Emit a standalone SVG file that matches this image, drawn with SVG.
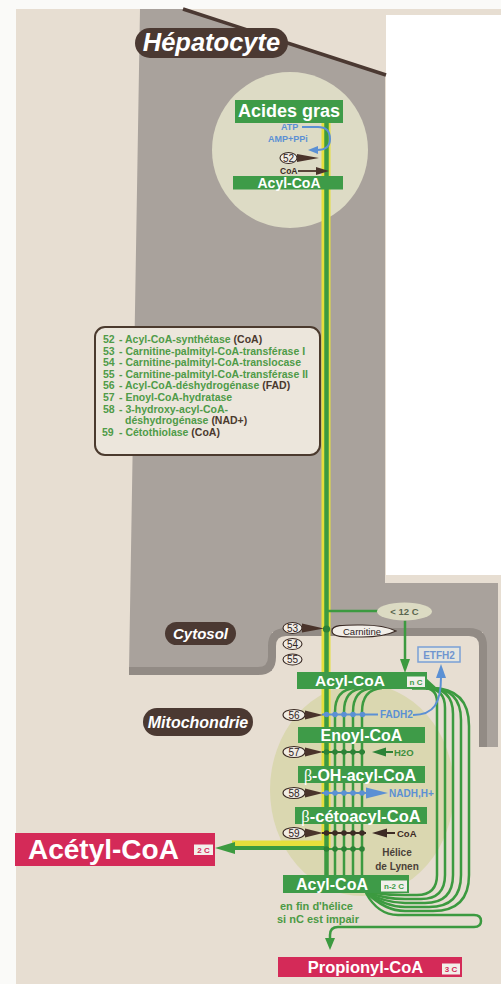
<svg xmlns="http://www.w3.org/2000/svg" width="501" height="984" viewBox="0 0 501 984">
<defs>
<style>
.bx{fill:#3e9b48;}
.bt{font-family:"Liberation Sans",Arial,sans-serif;font-weight:bold;fill:#ffffff;text-anchor:middle;}
.pill{fill:#4b3932;}
.pt{font-family:"Liberation Sans",Arial,sans-serif;font-weight:bold;font-style:italic;fill:#ffffff;text-anchor:middle;}
.num{fill:#f1ece4;stroke:#3a2a24;stroke-width:1.1;}
.nt{font-family:"Liberation Sans",Arial,sans-serif;font-size:10px;fill:#2e221d;text-anchor:middle;}
.tri{fill:#4a342b;}
.gl{stroke:#3c9a40;fill:none;stroke-width:2.5;}
.bl{stroke:#5b90d4;fill:none;stroke-width:2;}
.dl{stroke:#3d2b25;fill:none;stroke-width:2;}
.dg{fill:#2c8236;}
.db{fill:#5b90d4;}
.dk{fill:#3d2b25;}
.lg{font-family:"Liberation Sans",Arial,sans-serif;font-weight:bold;font-size:10.5px;fill:#4f9b48;}
.lp{fill:#4b3a2e;}
.crim{fill:#d42a58;}
.tag{fill:#f2efea;}
.tagt{font-family:"Liberation Sans",Arial,sans-serif;font-weight:bold;font-size:8px;text-anchor:middle;}
.beta{font-family:"Liberation Serif","Times New Roman",serif;font-weight:normal;}
.sm{font-family:"Liberation Sans",Arial,sans-serif;font-weight:bold;}
</style>
</defs>

<!-- background -->
<rect x="0" y="0" width="501" height="984" fill="#fafaf8"/>
<rect x="16" y="9" width="485" height="975" fill="#e7ded2"/>
<path d="M140,9 L183,9 L385,75 L385,583 L498,583 L498,747 L483,747 L483,632 L272,632 L272,671 L129,671 Z" fill="#a9a29c"/>
<rect x="386" y="15" width="115" height="560" fill="#ffffff"/>
<path d="M129,671 L258,671 Q272,671 272,657 L272,646 Q272,632 286,632 L469,632 Q483,632 483,646 L483,747" fill="none" stroke="#928b85" stroke-width="8"/>
<line x1="183" y1="9" x2="386" y2="75" stroke="#4b3932" stroke-width="3.5"/>
<circle cx="290" cy="150" r="78" fill="#dddbc5"/>
<ellipse cx="362" cy="790" rx="92" ry="106" fill="#dad7b0"/>

<!-- connectors -->
<g id="connectors">
  <path d="M326,123 L326,845 L232,845" fill="none" stroke="#e6df3c" stroke-width="9"/>
  <path d="M326.5,123 L326.5,875" fill="none" stroke="#3c9a40" stroke-width="4.5"/>
  <path d="M326.5,848 L232,848" fill="none" stroke="#3c9a40" stroke-width="4"/>
  <polygon points="215,848 235,842 235,854" fill="#3c9a40"/>
  <!-- ATP -> AMP -->
  <path d="M302,127 L318,127 C328,127 330,133 330,139 C330,146 326,150 317,150" class="bl" stroke-width="1.8"/>
  <polygon points="308,150 318,146 318,154" fill="#5b90d4"/>
  <!-- CoA -> -->
  <line x1="298" y1="171" x2="316" y2="171" stroke="#4a342b" stroke-width="1.8"/>
  <polygon points="316,167 316,175 329,171" fill="#4a342b"/>
  <!-- < 12 C branch -->
  <path d="M326.5,611 L378,611" class="gl"/>
  <path d="M405,620.5 L405,660" class="gl"/>
  <polygon points="400,659 410,659 405,673" fill="#3c9a40"/>
  <!-- helix verticals (inner) -->
  <path d="M335,875 L335,712 C335,698 341,689 355,688" class="gl"/>
  <path d="M344,875 L344,712 C344,698 350,689 364,688" class="gl"/>
  <path d="M353,875 L353,712 C353,698 359,689 373,688" class="gl"/>
  <path d="M362,875 L362,712 C362,698 368,689 382,688" class="gl"/>
  <!-- helix outer loops -->
  <path d="M412,688 L423,688 Q437,688 437,702 L437,875 Q437,895 417,895 L405,895 Q385,895 366,892" class="gl"/>
  <path d="M412,688 L425,688 Q445,688 445,708 L445,875 Q445,899 421,899 L405,899 Q385,899 366,892" class="gl"/>
  <path d="M412,688 L427,688 Q453,688 453,714 L453,875 Q453,903 425,903 L405,903 Q385,903 366,892" class="gl"/>
  <path d="M412,688 L429,688 Q461,688 461,720 L461,875 Q461,907 429,907 L405,907 Q385,907 366,892" class="gl"/>
  <path d="M412,688 L431,688 Q469,688 469,726 L469,875 Q469,911 433,911 L405,911 Q385,911 366,892" class="gl"/>
  <polygon points="426,678 438,689 426,690" fill="#3c9a40"/>
  <!-- propionyl path -->
  <path d="M366,893 Q378,915 398,915 L474,915 Q481,915 481,921 Q481,927 474,927 L338,927 Q330,927 330,935 L330,939" class="gl"/>
  <polygon points="325,938 335,938 330,950" fill="#3c9a40"/>
  <!-- row 56 -->
  <line x1="322" y1="714.5" x2="378" y2="714.5" class="bl"/>
  <path d="M413,715 C434,715 441,703 441,677" class="bl" stroke-width="2.2"/>
  <polygon points="436,678 446,678 441,664" fill="#5b90d4"/>
  <!-- row 57 -->
  <line x1="322" y1="752" x2="365" y2="752" stroke="#2c8236" stroke-width="2"/>
  <line x1="384" y1="752" x2="393" y2="752" stroke="#2c8236" stroke-width="2"/>
  <polygon points="372,752 386,747.5 386,756.5" fill="#2c8236"/>
  <!-- row 58 -->
  <line x1="322" y1="793" x2="368" y2="793" class="bl"/>
  <polygon points="388,793 366,787.5 366,798.5" fill="#5b90d4"/>
  <!-- row 59 -->
  <line x1="322" y1="833" x2="366" y2="833" class="dl"/>
  <line x1="386" y1="833" x2="395" y2="833" class="dl"/>
  <polygon points="372,833 387,828.5 387,837.5" fill="#3d2b25"/>
  <!-- row acetyl -->
  <line x1="326" y1="849" x2="362" y2="849" stroke="#3c9a40" stroke-width="2"/>
  <!-- dots -->
  <g class="db">
    <circle cx="326.5" cy="714.5" r="2.8"/><circle cx="335" cy="714.5" r="2.8"/><circle cx="344" cy="714.5" r="2.8"/><circle cx="353" cy="714.5" r="2.8"/><circle cx="362.5" cy="714.5" r="2.8"/>
    <circle cx="326.5" cy="793" r="2.8"/><circle cx="335" cy="793" r="2.8"/><circle cx="344" cy="793" r="2.8"/><circle cx="353" cy="793" r="2.8"/><circle cx="362" cy="793" r="2.8"/>
  </g>
  <g class="dg">
    <circle cx="326.5" cy="752" r="2.8"/><circle cx="335" cy="752" r="2.8"/><circle cx="344" cy="752" r="2.8"/><circle cx="353" cy="752" r="2.8"/><circle cx="362" cy="752" r="2.8"/>
    <circle cx="326.5" cy="849" r="2.8"/><circle cx="335" cy="849" r="2.8"/><circle cx="344" cy="849" r="2.8"/><circle cx="353" cy="849" r="2.8"/><circle cx="362" cy="849" r="2.8"/>
    <circle cx="326.5" cy="629" r="3.6"/>
  </g>
  <g class="dk">
    <circle cx="326.5" cy="833" r="2.8"/><circle cx="335" cy="833" r="2.8"/><circle cx="344" cy="833" r="2.8"/><circle cx="353" cy="833" r="2.8"/><circle cx="362" cy="833" r="2.8"/>
  </g>
</g>

<!-- labels / pills -->
<g id="hepatocyte"><rect x="135" y="28" width="153" height="30" rx="15" class="pill"/><text x="211.5" y="50.5" class="pt" font-size="25.5">Hépatocyte</text></g>
<g id="cytosol"><rect x="165" y="622" width="71" height="23" rx="11.5" class="pill"/><text x="200.5" y="638.5" class="pt" font-size="15">Cytosol</text></g>
<g id="mitochondrie"><rect x="143" y="708" width="110" height="28" rx="14" class="pill"/><text x="198" y="727.5" class="pt" font-size="16">Mitochondrie</text></g>

<!-- top -->
<g id="acides-gras"><rect x="235" y="100" width="108" height="23" class="bx"/><text x="289" y="116.5" class="bt" font-size="18">Acides gras</text></g>
<g id="atp"><text x="281" y="130" class="sm" font-size="9" fill="#5b90d4">ATP</text><text x="268" y="142" class="sm" font-size="9" fill="#5b90d4">AMP+PPi</text></g>
<g id="e52"><ellipse cx="288.5" cy="158" rx="8.5" ry="5.5" class="num"/><text x="288.5" y="161.5" class="nt">52</text><polygon points="297,154 297,162 319,158" class="tri"/></g>
<g id="coa-top"><text x="280" y="173.5" class="sm" font-size="8.5" fill="#3d2b25">CoA</text></g>
<g id="acyl-coa-top"><rect x="233" y="176" width="110" height="13.5" class="bx"/><text x="289" y="187.5" class="bt" font-size="14">Acyl-CoA</text></g>

<!-- legend -->
<g id="legend">
  <rect x="95" y="327" width="225" height="128" rx="10" fill="#ece6dc" stroke="#4b3a2e" stroke-width="2"/>
  <text class="lg"><tspan x="103" y="343">52</tspan><tspan x="119">- Acyl-CoA-synthétase <tspan class="lp">(CoA)</tspan></tspan></text>
  <text class="lg"><tspan x="103" y="354.6">53</tspan><tspan x="119">- Carnitine-palmityl-CoA-transférase I</tspan></text>
  <text class="lg"><tspan x="103" y="366.2">54</tspan><tspan x="119">- Carnitine-palmityl-CoA-translocase</tspan></text>
  <text class="lg"><tspan x="103" y="377.8">55</tspan><tspan x="119">- Carnitine-palmityl-CoA-transférase II</tspan></text>
  <text class="lg"><tspan x="103" y="389.4">56</tspan><tspan x="119">- Acyl-CoA-déshydrogénase <tspan class="lp">(FAD)</tspan></tspan></text>
  <text class="lg"><tspan x="103" y="401">57</tspan><tspan x="119">- Enoyl-CoA-hydratase</tspan></text>
  <text class="lg"><tspan x="103" y="412.6">58</tspan><tspan x="119">- 3-hydroxy-acyl-CoA-</tspan></text>
  <text class="lg"><tspan x="125" y="424.2">déshydrogénase <tspan class="lp">(NAD+)</tspan></tspan></text>
  <text class="lg"><tspan x="102" y="435.8">59</tspan><tspan x="119">- Cétothiolase <tspan class="lp">(CoA)</tspan></tspan></text>
</g>

<!-- cytosol / membrane -->
<g id="lt12"><ellipse cx="404.5" cy="611.5" rx="27.5" ry="9" fill="#dcdbc3"/><text x="404.5" y="615" class="sm" font-size="9.5" fill="#5a6650" text-anchor="middle">&lt; 12 C</text></g>
<g id="carnitine"><path d="M332,631 C332,624.5 345,625 362,625 C380,625 390,628 396,631 C390,634 380,637 362,637 C345,637 332,637.5 332,631 Z" fill="#f2eee8" stroke="#3a2a24" stroke-width="1.2"/><text x="362" y="634.5" font-family="Liberation Sans, Arial, sans-serif" font-size="9.5" fill="#2e221d" text-anchor="middle">Carnitine</text></g>
<g id="e53"><ellipse cx="292.5" cy="628" rx="9.5" ry="5.5" class="num"/><text x="292.5" y="631.5" class="nt">53</text><polygon points="302,623.5 302,632.5 324,628.5" class="tri"/></g>
<g id="e54"><ellipse cx="292.5" cy="644" rx="9.5" ry="5.5" class="num"/><text x="292.5" y="647.5" class="nt">54</text></g>
<g id="e55"><ellipse cx="292.5" cy="659.5" rx="9.5" ry="5.5" class="num"/><text x="292.5" y="663" class="nt">55</text></g>
<g id="etfh2"><rect x="418" y="647" width="42" height="15" fill="#e4e4de" stroke="#7aa0d6" stroke-width="1.5"/><text x="439" y="658.5" class="sm" font-size="10" fill="#6f95cf" text-anchor="middle">ETFH2</text></g>

<!-- mitochondria -->
<g id="acyl-coa-nc"><rect x="297" y="672" width="130" height="17" class="bx"/><text x="350" y="686" class="bt" font-size="15.5">Acyl-CoA</text><rect x="407" y="676.5" width="18" height="10.5" class="tag"/><text x="416" y="684.6" class="tagt" fill="#3e9b48">n C</text></g>
<g id="e56"><ellipse cx="294" cy="715" rx="11" ry="5.5" class="num"/><text x="294" y="718.5" class="nt">56</text><polygon points="305,710.5 305,719.5 323,715" class="tri"/></g>
<g id="fadh2"><text x="380" y="718" class="sm" font-size="10" fill="#5b90d4">FADH2</text></g>
<g id="enoyl-coa"><rect x="298" y="727" width="127" height="16" class="bx"/><text x="361.5" y="741" class="bt" font-size="16">Enoyl-CoA</text></g>
<g id="e57"><ellipse cx="294" cy="752" rx="11" ry="5.5" class="num"/><text x="294" y="755.5" class="nt">57</text><polygon points="305,747.5 305,756.5 323,752" class="tri"/></g>
<g id="h2o"><text x="394" y="755.5" class="sm" font-size="9.5" fill="#3e8e3c">H2O</text></g>
<g id="oh-acyl-coa"><rect x="298" y="766" width="127" height="17" class="bx"/><text x="360" y="780.5" class="bt" font-size="16"><tspan class="beta">β</tspan>-OH-acyl-CoA</text></g>
<g id="e58"><ellipse cx="294" cy="793" rx="11" ry="5.5" class="num"/><text x="294" y="796.5" class="nt">58</text><polygon points="305,788.5 305,797.5 323,793" class="tri"/></g>
<g id="nadh"><text x="389" y="796.5" class="sm" font-size="10" fill="#5b90d4">NADH,H+</text></g>
<g id="ceto-acyl-coa"><rect x="295" y="807" width="132" height="17" class="bx"/><text x="361" y="821.5" class="bt" font-size="16.5"><tspan class="beta">β</tspan>-cétoacyl-CoA</text></g>
<g id="e59"><ellipse cx="294" cy="833" rx="11" ry="5.5" class="num"/><text x="294" y="836.5" class="nt">59</text><polygon points="305,828.5 305,837.5 323,833" class="tri"/></g>
<g id="coa-59"><text x="397" y="836.5" class="sm" font-size="9.5" fill="#3d2b25">CoA</text></g>
<g id="lynen"><text x="397" y="856" class="sm" font-size="10" fill="#4a3f38" text-anchor="middle">Hélice</text><text x="397" y="870" class="sm" font-size="10" fill="#4a3f38" text-anchor="middle">de Lynen</text></g>
<g id="acyl-coa-n2c"><rect x="283" y="875" width="126" height="18" class="bx"/><text x="332" y="890" class="bt" font-size="16">Acyl-CoA</text><rect x="381" y="880.5" width="26" height="11" class="tag"/><text x="394" y="889" class="tagt" fill="#3e9b48">n-2 C</text></g>
<g id="note"><text x="280" y="910" class="sm" font-size="11" fill="#4c9a45">en  fin d'hélice</text><text x="277" y="922.5" class="sm" font-size="11" fill="#4c9a45">si nC est impair</text></g>

<!-- products -->
<g id="acetyl-coa"><rect x="15" y="833" width="200" height="33" class="crim"/><text x="28" y="859" class="bt" font-size="28" style="text-anchor:start">Acétyl-CoA</text><rect x="194" y="844.5" width="19" height="10.5" class="tag"/><text x="203.5" y="852.6" class="tagt" fill="#d42a58">2 C</text></g>
<g id="propionyl-coa"><rect x="278" y="957" width="184" height="20" class="crim"/><text x="365.5" y="973" class="bt" font-size="16.5">Propionyl-CoA</text><rect x="442" y="963.5" width="18" height="11" class="tag"/><text x="451" y="972" class="tagt" fill="#d42a58">3 C</text></g>
</svg>
